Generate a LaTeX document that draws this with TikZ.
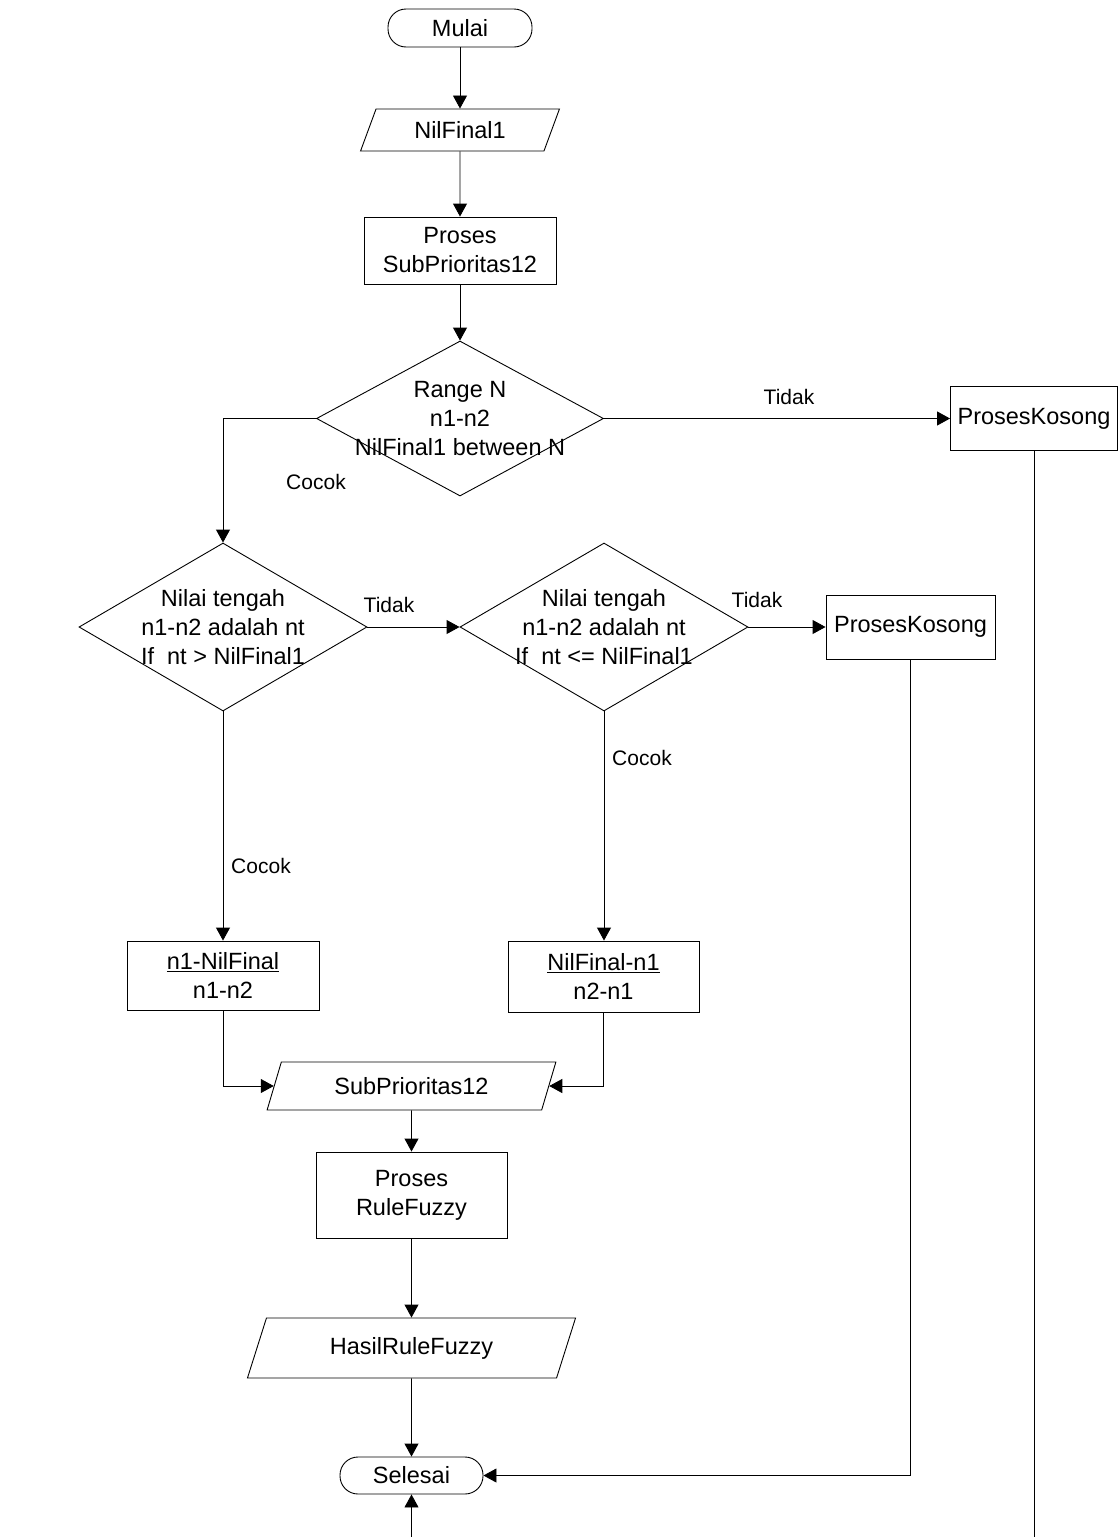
\documentclass[tikz,border=0pt]{standalone}
\usepackage{fontspec}
\setmainfont{Liberation Sans}
\usetikzlibrary{shapes,arrows.meta,positioning,calc}

\begin{document}
\begin{tikzpicture}[x=1pt,y=-1pt,line width=0.9pt,
    >={Triangle[length=13pt,width=14pt]},
    every node/.style={font=\fontsize{23.5}{29}\selectfont},
    terminal/.style={draw, rectangle, rounded corners=18pt, minimum width=144pt, minimum height=38pt, inner sep=0pt},
    prosesbox/.style={draw, rectangle, align=center, inner sep=0pt},
    iobox/.style={draw, trapezium, trapezium left angle=64, trapezium right angle=116, trapezium stretches=true, inner sep=0pt},
    cekbox/.style={draw, diamond, inner sep=0pt},
    cekteks/.style={align=center},
    ket/.style={font=\fontsize{21}{25}\selectfont}]
    \useasboundingbox (0,0) rectangle (1118,1537);

    % Mulai
    \node[terminal] (mulai) at (460,28) {Mulai};
    \node[iobox, minimum width=199pt, minimum height=42pt] (nilfinal) at (460,130) {NilFinal1};
    \node[prosesbox, minimum width=192pt, minimum height=67pt] (subproses) at (460,250.5) {Proses\\SubPrioritas12};
    \draw[->] (mulai) -- (nilfinal);
    \draw[->] (nilfinal) -- (subproses);

    % Range N
    \node[cekbox, minimum width=287pt, minimum height=155pt] (range) at (460,418.5) {};
    \node[cekteks] (rangeteks) at (range.center) {Range N\\n1-n2\\NilFinal1 between N};
    \node[prosesbox, minimum width=167pt, minimum height=64pt] (kosong1) at (1034,418.5) {ProsesKosong};
    \draw[->] (subproses) -- (range);
    \draw[->] (range.east) -- (kosong1.west);
    \node[ket] (tidak1) at (789,397) {Tidak};

    % Nilai tengah
    \node[cekbox, minimum width=288pt, minimum height=168pt] (tengah1) at (223,627) {};
    \node[cekteks] (tengah1teks) at (tengah1.center) {Nilai tengah\\n1-n2 adalah nt\\If\ \ nt > NilFinal1};
    \node[cekbox, minimum width=288pt, minimum height=168pt] (tengah2) at (604,627) {};
    \node[cekteks] (tengah2teks) at (tengah2.center) {Nilai tengah\\n1-n2 adalah nt\\If\ \ nt <= NilFinal1};
    \node[prosesbox, minimum width=169pt, minimum height=64pt] (kosong2) at (910.5,627) {ProsesKosong};
    \draw[->] (range.west) -| (tengah1.north);
    \node[ket] (cocok1) at (316,482) {Cocok};
    \draw[->] (tengah1.east) -- (tengah2.west);
    \node[ket] (tidak2) at (389,605) {Tidak};
    \draw[->] (tengah2.east) -- (kosong2.west);
    \node[ket] (tidak3) at (757,600) {Tidak};

    % Hitung
    \node[prosesbox, minimum width=192pt, minimum height=69pt] (hitung1) at (223,975.5) {\underline{n1-NilFinal}\\n1-n2};
    \node[prosesbox, minimum width=191pt, minimum height=71pt] (hitung2) at (603.5,976.5) {\underline{NilFinal-n1}\\n2-n1};
    \draw[->] (tengah1.south) -- (hitung1.north);
    \node[ket] (cocok2) at (261,866) {Cocok};
    \draw[->] (tengah2.south) -- (tengah2.south |- hitung2.north);
    \node[ket] (cocok3) at (642,758) {Cocok};

    % Rule fuzzy
    \node[iobox, minimum width=289pt, minimum height=48pt] (subprio) at (411.5,1086) {SubPrioritas12};
    \node[prosesbox, minimum width=191pt, minimum height=86pt] (rule) at (411.5,1195) {Proses\\RuleFuzzy};
    \node[iobox, minimum width=329pt, minimum height=60pt] (hasil) at (411.5,1348) {HasilRuleFuzzy};
    \node[terminal, minimum width=143pt, minimum height=37pt] (selesai) at (411.5,1475.5) {Selesai};
    \draw[->] (hitung1.south) |- (subprio.west);
    \draw[->] (hitung2.south) |- (subprio.east);
    \draw[->] (subprio) -- (rule);
    \draw[->] (rule) -- (hasil);
    \draw[->] (hasil) -- (selesai);

    % Selesai
    \coordinate (bawah) at (411.5,1600);
    \draw[->] (kosong2.south) |- (selesai.east);
    \draw[->] (kosong1.south) |- (bawah) -- (selesai.south);
\end{tikzpicture}
\end{document}
